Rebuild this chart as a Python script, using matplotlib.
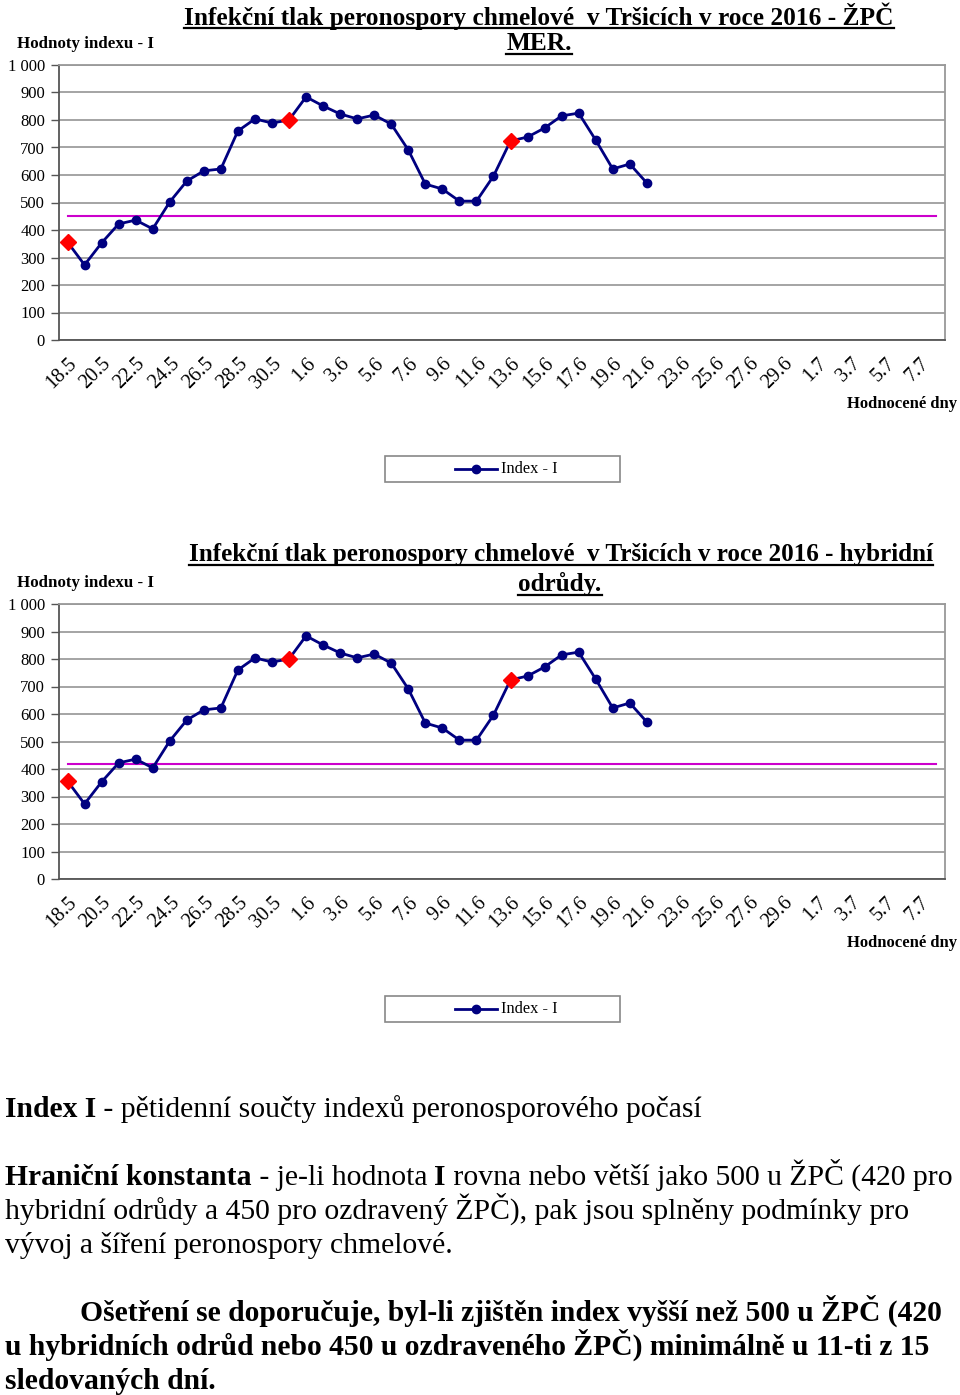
import matplotlib
matplotlib.use("Agg")
import matplotlib.pyplot as plt
import matplotlib.transforms as mtransforms
from matplotlib.lines import Line2D
from matplotlib.patches import Rectangle

# ---------------- data ----------------
days = ["18.5", "19.5", "20.5", "21.5", "22.5", "23.5", "24.5", "25.5", "26.5", "27.5",
        "28.5", "29.5", "30.5", "31.5", "1.6", "2.6", "3.6", "4.6", "5.6", "6.6",
        "7.6", "8.6", "9.6", "10.6", "11.6", "12.6", "13.6", "14.6", "15.6", "16.6",
        "17.6", "18.6", "19.6", "20.6", "21.6", "22.6", "23.6", "24.6", "25.6", "26.6",
        "27.6", "28.6", "29.6", "30.6", "1.7", "2.7", "3.7", "4.7", "5.7", "6.7", "7.7",
        "8.7"]

index_zpc = [356, 273, 353, 422, 436, 404, 502, 578, 615, 622,
             760, 804, 789, 800, 884, 851, 822, 804, 818, 785,
             691, 567, 549, 505, 505, 596, 724, 738, 771, 815,
             825, 727, 622, 640, 571]
index_hybrid = [356, 273, 353, 422, 436, 404, 502, 578, 615, 622,
                760, 804, 789, 800, 884, 851, 822, 804, 818, 785,
                691, 567, 549, 505, 505, 596, 724, 738, 771, 815,
                825, 727, 622, 640, 571]
highlight_idx = [0, 13, 26]
limit_zpc = 450
limit_hybrid = 420
yticks = [0, 100, 200, 300, 400, 500, 600, 700, 800, 900, 1000]
ytick_labels = ["0", "100", "200", "300", "400", "500", "600", "700", "800", "900", "1 000"]

W, H = 960, 1395
fig = plt.figure(figsize=(W / 100, H / 100), dpi=100)
fig.patch.set_facecolor("white")
SERIF = ["Liberation Serif", "DejaVu Serif"]
plt.rcParams["font.family"] = SERIF

def fx(x):
    return x / W

def fy(y):
    return 1 - y / H

NAVY = "#000080"
GRID = "#8c8c8c"

def draw_chart(top_px, values, limit):
    bottom_px = top_px + 275
    ax = fig.add_axes([fx(59), fy(bottom_px), fx(945) - fx(59), 275 / H])
    n = len(days)
    xs = list(range(n))
    ax.set_xlim(-0.5, n - 0.5)
    ax.set_ylim(0, 1000)
    ax.set_yticks(yticks)
    ax.set_yticklabels(ytick_labels, fontsize=12)
    ax.set_xticks(xs[::2])
    ax.set_xticklabels(days[::2], rotation=45, ha="right", rotation_mode="anchor",
                       fontsize=14.5)
    shift = mtransforms.ScaledTranslation(-4 / 100, 0, fig.dpi_scale_trans)
    for lab in ax.get_xticklabels():
        lab.set_transform(lab.get_transform() + shift)
    ax.tick_params(axis="x", length=0, pad=10)
    ax.tick_params(axis="y", length=6, width=1, color="#555555", pad=4)
    ax.grid(axis="y", color=GRID, linewidth=1.1)
    ax.set_axisbelow(True)
    for s in ["top", "right"]:
        ax.spines[s].set_color("#999999")
        ax.spines[s].set_linewidth(1.3)
    for s in ["left", "bottom"]:
        ax.spines[s].set_color("#555555")
        ax.spines[s].set_linewidth(1.3)
    ax.plot(xs, [limit] * n, color="#cc00cc", linewidth=1.5, zorder=2)
    ax.plot(xs[:len(values)], values, color=NAVY, linewidth=2, marker="o",
            markersize=6, markerfacecolor=NAVY, markeredgecolor=NAVY, zorder=3)
    ax.plot([xs[i] for i in highlight_idx], [values[i] for i in highlight_idx],
            linestyle="none", marker="D", markersize=8.5, color="#ff0000", zorder=4)
    return ax

ax1 = draw_chart(65, index_zpc, limit_zpc)
ax2 = draw_chart(604, index_hybrid, limit_hybrid)

titles = [
    (539, 16, "Infekční tlak peronospory chmelové  v Tršicích v roce 2016 - ŽPČ", 539, 44, "MER.", 18.3),
    (561, 555, "Infekční tlak peronospory chmelové  v Tršicích v roce 2016 - hybridní", 560, 584, "odrůdy.", 18.1),
]
title_texts = []
for cx, cy, t1, cx2, cy2, t2, fs in titles:
    a = fig.text(fx(cx), fy(cy), t1, ha="center", va="center", fontsize=fs,
                 fontweight="bold")
    b = fig.text(fx(cx2), fy(cy2), t2, ha="center", va="center", fontsize=fs,
                 fontweight="bold")
    title_texts += [a, b]

for ytop in [44, 583]:
    fig.text(fx(17), fy(ytop), "Hodnoty indexu - I", ha="left", va="center",
             fontsize=12.2, fontweight="bold")
for ybot in [404, 943]:
    fig.text(fx(957), fy(ybot), "Hodnocené dny", ha="right", va="center",
             fontsize=12, fontweight="bold")

# legends
for ly in [456, 996]:
    fig.patches.append(Rectangle((fx(385), fy(ly + 26)), fx(620) - fx(385), 26 / H,
                                 transform=fig.transFigure, facecolor="white",
                                 edgecolor="#888888", linewidth=1.2))
    fig.lines.append(Line2D([fx(455), fx(497)], [fy(ly + 13)] * 2, transform=fig.transFigure,
                            color=NAVY, linewidth=2))
    fig.lines.append(Line2D([fx(476)], [fy(ly + 13)], transform=fig.transFigure,
                            color=NAVY, marker="o", markersize=6, linestyle="none"))
    fig.text(fx(501), fy(ly + 13), "Index - I", ha="left", va="center", fontsize=11.8)

# body text
FS = 21.3
lines_spec = [
    (5, 1117, [("Index I", True), (" - pětidenní součty indexů peronosporového počasí", False)]),
    (5, 1185, [("Hraniční konstanta", True), (" - je-li hodnota ", False), ("I", True),
               (" rovna nebo větší jako 500 u ŽPČ (420 pro", False)]),
    (5, 1219, [("hybridní odrůdy a 450 pro ozdravený ŽPČ), pak jsou splněny podmínky pro", False)]),
    (5, 1253, [("vývoj a šíření peronospory chmelové.", False)]),
]
fig.canvas.draw()
renderer = fig.canvas.get_renderer()
for x, y, pieces in lines_spec:
    cur = x
    for txt, bold in pieces:
        t = fig.text(cur / W, fy(y), txt, ha="left", va="baseline", fontsize=FS,
                     fontweight="bold" if bold else "normal")
        bb = t.get_window_extent(renderer)
        cur = bb.x1

bold_lines = [
    (80, 1321, "Ošetření se doporučuje, byl-li zjištěn index vyšší než 500 u ŽPČ (420"),
    (5, 1355, "u hybridních odrůd nebo 450 u ozdraveného ŽPČ) minimálně u 11-ti z 15"),
    (5, 1389, "sledovaných dní."),
]
for x, y, txt in bold_lines:
    fig.text(fx(x), fy(y), txt, ha="left", va="baseline", fontsize=21.3, fontweight="bold")

# underline titles
fig.canvas.draw()
for t in title_texts:
    bb = t.get_window_extent(renderer)
    yline = bb.y0 + 1.5
    fig.lines.append(Line2D([bb.x0 / W, bb.x1 / W], [yline / H, yline / H],
                            transform=fig.transFigure, color="black", linewidth=1.6))

fig.savefig("out.png", dpi=100, facecolor="white")
